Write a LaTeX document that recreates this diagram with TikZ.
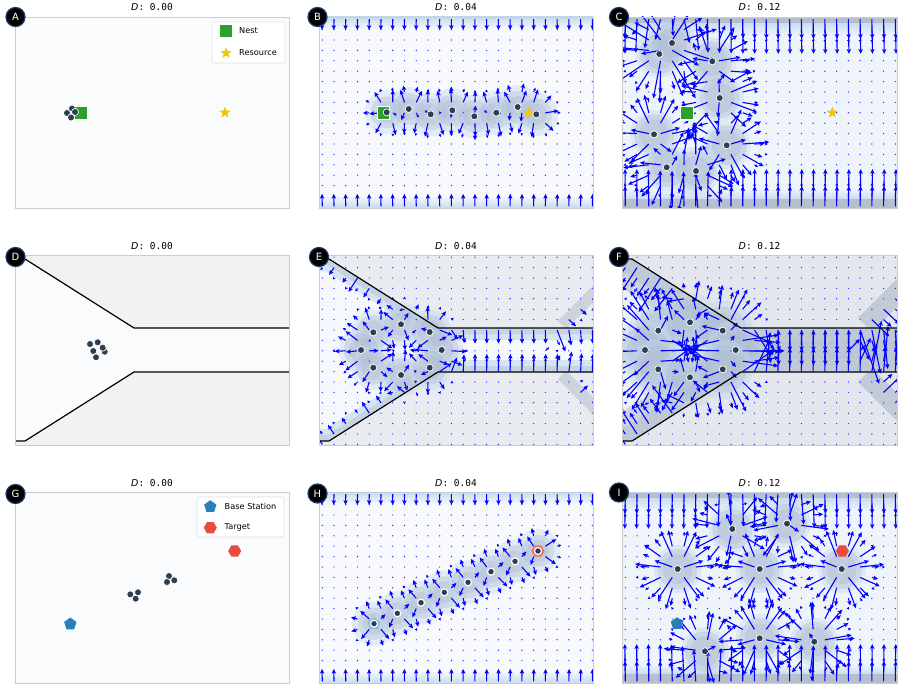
\documentclass[tikz,border=0pt]{standalone}
\usepackage{fontspec}
\setmainfont{DejaVu Sans}
\setsansfont{DejaVu Sans}
\setmonofont{DejaVu Sans Mono}
\usetikzlibrary{arrows.meta,shapes.geometric}
\definecolor{panelbg}{RGB}{250,251,253}
\definecolor{panelframe}{RGB}{200,205,213}
\definecolor{fieldbg}{RGB}{247,249,253}
\definecolor{densebg}{RGB}{238,244,250}
\definecolor{wallout}{RGB}{241,242,244}
\definecolor{walloutE}{RGB}{232,236,241}
\definecolor{walloutF}{RGB}{227,231,237}
\definecolor{wallinE}{RGB}{245,248,252}
\definecolor{wallinF}{RGB}{238,243,248}
\definecolor{haloblue}{RGB}{196,215,236}
\definecolor{halogray}{RGB}{172,184,205}
\definecolor{bandgray}{RGB}{181,191,206}
\definecolor{bandblue}{RGB}{200,218,238}
\definecolor{agentc}{RGB}{44,62,80}
\definecolor{nestc}{RGB}{44,160,44}
\definecolor{starc}{RGB}{241,196,15}
\definecolor{basec}{RGB}{41,128,185}
\definecolor{targetc}{RGB}{231,76,60}
\definecolor{labelring}{RGB}{28,58,105}
\definecolor{vecc}{RGB}{0,0,255}
\tikzset{
  agentdot/.style={circle, fill=agentc, draw=white, line width=0.7pt, inner sep=0pt, minimum size=7pt},
  nestmark/.style={rectangle, fill=nestc, draw=white, line width=0.5pt, inner sep=0pt, minimum size=12.5pt},
  resourcemark/.style={star, star points=5, star point ratio=2.4, fill=starc, inner sep=0pt, minimum size=12pt},
  basemark/.style={regular polygon, regular polygon sides=5, fill=basec, inner sep=0pt, minimum size=13pt},
  targetmark/.style={regular polygon, regular polygon sides=6, fill=targetc, inner sep=0pt, minimum size=13pt},
  panellabel/.style={circle, fill=black, draw=labelring, line width=1.2pt, inner sep=0pt, minimum size=19pt, text=white, font=\fontsize{10}{10}\selectfont},
  paneltitle/.style={font=\fontsize{9.5}{11}\selectfont, inner sep=0pt},
  axesbox/.style={draw=panelframe, line width=0.9pt},
  legendbox/.style={rectangle, draw=black!12, fill=white, rounded corners=1.5pt, line width=0.6pt, inner sep=0pt},
  legendtext/.style={font=\fontsize{8.2}{10}\selectfont, anchor=west, inner sep=0pt},
  wallline/.style={draw=black, line width=1.2pt},
  vec/.style={draw=vecc, line width=1.1pt, -{Stealth[length=4.6pt,width=4.2pt,inset=0.8pt]}},
  vecshort/.style={draw=vecc, line width=0.9pt, -{Stealth[length=2.6pt,width=2.8pt,inset=0.4pt]}},
  vecdot/.style={fill=vecc!85}
}
% agent positions, panel coordinates (origin top left, y down)
\def\agentsB{67.7/95.3,89.7/92,111.7/97.3,133.3/93.3,155.3/99.3,177.3/95.7,198.7/90,217.3/97.3}
\def\agentsC{37.3/37,50/26,90.3/44.3,97.7/81,32/117.3,104.7/128.3,44.7/150.3,74/154}
\def\agentsE{54.3/77.3,82/69.3,110.7/77,42/95,122.7/95,54.3/112.7,82/120,110.7/112.7}
\def\agentsF{36.3/75.7,68/67.3,100.7/75.7,23/95,113.7/95,36.3/114.3,68/122.3,100.7/114.3}
\def\agentsH{55/131.7,78.3/121.3,102/110.7,125.3/100.3,149/90.3,172/79.7,196/69.3,219/59}
\def\agentsI{110.3/37,165/31.7,55.7/77,137.7/77,219.7/77,83/159.3,137.7/146.3,192.3/149.7}
% soft halo round each agent
\newcommand{\halos}[4]{%
  \foreach \qa/\qb in #1 {%
    \fill[haloblue, opacity=0.4] (\qa,\qb) circle (#2);
    \fill[halogray, opacity=0.35] (\qa,\qb) circle (#3);
    \fill[halogray, opacity=0.35] (\qa,\qb) circle (#4);
  }}
% walls of the funnel, and the chevron at the right edge
\newcommand{\funnelwalls}[2]{%
  \ifdim\qpu pt<119pt
    \pgfmathsetmacro\qdt{(\qpu-10)*(-0.535)+(\qpv-4)*0.845}%
    \pgfmathsetmacro\qdb{(\qpu-10)*(-0.535)+(186-\qpv)*0.845}%
    \def\qntx{-0.535}\def\qnty{0.845}\def\qnbx{-0.535}\def\qnby{-0.845}%
  \else
    \pgfmathsetmacro\qdt{\qpv-73}\pgfmathsetmacro\qdb{117-\qpv}%
    \def\qntx{0}\def\qnty{1}\def\qnbx{0}\def\qnby{-1}%
  \fi
  \ifdim\qdt pt>0pt \ifdim\qdb pt>0pt
    \pgfmathsetmacro\qet{#1*exp(-min(\qdt/#2,9))}%
    \pgfmathsetmacro\qeb{#1*exp(-min(\qdb/#2,9))}%
    \pgfmathsetmacro\qtx{\qvx+\qntx*\qet+\qnbx*\qeb}\global\let\qvx\qtx
    \pgfmathsetmacro\qty{\qvy+\qnty*\qet+\qnby*\qeb}\global\let\qvy\qty
  \fi\fi
  \ifdim\qpu pt>225pt
    \pgfmathsetmacro\qdc{(\qpu-275+\qpv-38)*0.707}%
    \ifdim\qdc pt>0pt \ifdim\qpv pt<95pt
      \pgfmathsetmacro\qec{0.6*#1*exp(-min(\qdc/#2,9))}%
      \pgfmathsetmacro\qtx{\qvx+0.707*\qec}\global\let\qvx\qtx
      \pgfmathsetmacro\qty{\qvy+0.707*\qec}\global\let\qvy\qty
    \fi\fi
    \pgfmathsetmacro\qdc{(\qpu-275-\qpv+152)*0.707}%
    \ifdim\qdc pt>0pt \ifdim\qpv pt>95pt
      \pgfmathsetmacro\qec{0.6*#1*exp(-min(\qdc/#2,9))}%
      \pgfmathsetmacro\qtx{\qvx+0.707*\qec}\global\let\qvx\qtx
      \pgfmathsetmacro\qty{\qvy-0.707*\qec}\global\let\qvy\qty
    \fi\fi
  \fi}
% quiver grid: #1 agents, #2 sigma, #3 gain, #4 0=box 1=funnel, #5 wall gain, #6 wall length
\newcommand{\quiverfield}[6]{%
  \foreach \qi in {0,...,23}{%
    \foreach \qj in {0,...,18}{%
      \pgfmathsetmacro\qpu{3.3+11.74*\qi}%
      \pgfmathsetmacro\qpv{2.2+10.4*\qj}%
      \gdef\qvx{0}\gdef\qvy{0}%
      \foreach \qa/\qb in #1 {%
        \pgfmathsetmacro\qdu{(\qpu-\qa)/#2}%
        \pgfmathsetmacro\qdv{(\qpv-\qb)/#2}%
        \pgfmathsetmacro\qwt{#3*exp(-min(0.5*(\qdu*\qdu+\qdv*\qdv),9))}%
        \pgfmathsetmacro\qtx{\qvx+\qdu*\qwt}\global\let\qvx\qtx
        \pgfmathsetmacro\qty{\qvy+\qdv*\qwt}\global\let\qvy\qty
      }%
      \ifnum#4=0
        \pgfmathsetmacro\qty{\qvy+#5*exp(-min(\qpv/#6,9))-#5*exp(-min((191-\qpv)/#6,9))}\global\let\qvy\qty
      \else
        \funnelwalls{#5}{#6}%
      \fi
      \pgfmathsetmacro\qlen{veclen(\qvx,\qvy)}%
      \ifdim\qlen pt<1.2pt
        \fill[vecdot] (\qpu,\qpv) circle (0.7);
      \else\ifdim\qlen pt<5.5pt
        \draw[vecshort] (\qpu,\qpv) -- ++(\qvx,\qvy);
      \else
        \draw[vec] (\qpu,\qpv) -- ++(\qvx,\qvy);
      \fi\fi
    }%
  }}
\begin{document}
\begin{tikzpicture}[x=1pt,y=-1pt]
\useasboundingbox (0,0) rectangle (900,685);
\fill[white] (0,0) rectangle (900,685);

% ---------- A: foraging, start
\begin{scope}[shift={(15,17)}]
  \fill[panelbg] (0,0) rectangle (274,191);
  \node[nestmark] (nestA) at (65.5,95.5) {};
  \node[resourcemark] (resA) at (210,95.5) {};
  \foreach \qa/\qb [count=\k] in {52/96,57/91.5,60/95,56/100.5} \node[agentdot] (a\k) at (\qa,\qb) {};
  \draw[axesbox] (0,0) rectangle (274,191);
  \node[legendbox, minimum width=73pt, minimum height=41pt] (legA) at (233.5,25.5) {};
  \node[nestmark, draw=none] (legnest) at (211,14) {};
  \node[legendtext] (legnesttxt) at (224,14) {Nest};
  \node[resourcemark] (legres) at (211,36) {};
  \node[legendtext] (legrestxt) at (224,36) {Resource};
\end{scope}

% ---------- B: foraging, D = 0.04
\begin{scope}[shift={(319,17)}]
  \begin{scope}
    \clip (0,0) rectangle (274,191);
    \fill[fieldbg] (0,0) rectangle (274,191);
    \shade[top color=bandblue, bottom color=fieldbg] (0,0) rectangle (274,12);
    \shade[top color=fieldbg, bottom color=bandblue] (0,179) rectangle (274,191);
    \halos{\agentsB}{22}{16}{11}
    \quiverfield{\agentsB}{9}{21}{0}{19}{4}
  \end{scope}
  \node[nestmark] (nestB) at (64,95.7) {};
  \node[resourcemark] (resB) at (209.7,95.7) {};
  \foreach \qa/\qb [count=\k] in \agentsB \node[agentdot] (b\k) at (\qa,\qb) {};
  \draw[axesbox] (0,0) rectangle (274,191);
\end{scope}

% ---------- C: foraging, D = 0.12
\begin{scope}[shift={(622,17)}]
  \begin{scope}
    \clip (0,0) rectangle (275,191);
    \fill[densebg] (0,0) rectangle (275,191);
    \shade[top color=bandblue, bottom color=densebg] (0,5) rectangle (275,18);
    \fill[bandgray] (0,0) rectangle (275,6);
    \shade[top color=densebg, bottom color=bandblue] (0,172) rectangle (275,183);
    \fill[bandgray] (0,182) rectangle (275,191);
    \halos{\agentsC}{24}{20}{15}
    \quiverfield{\agentsC}{13}{46}{0}{46}{8}
  \end{scope}
  \node[nestmark] (nestC) at (64.7,95.7) {};
  \node[resourcemark] (resC) at (210.3,95.7) {};
  \foreach \qa/\qb [count=\k] in \agentsC \node[agentdot] (c\k) at (\qa,\qb) {};
  \draw[axesbox] (0,0) rectangle (275,191);
\end{scope}

% ---------- D: funnel, start
\begin{scope}[shift={(15,255)}]
  \fill[wallout] (0,0) rectangle (274,190);
  \fill[panelbg] (0,4) -- (10,4) -- (119,73) -- (274,73) -- (274,117) -- (119,117) -- (10,186) -- (0,186) -- cycle;
  \draw[wallline] (0,4) -- (10,4) -- (119,73) -- (274,73);
  \draw[wallline] (0,186) -- (10,186) -- (119,117) -- (274,117);
  \foreach \qa/\qb [count=\k] in {75/89,82.7/87.3,78.3/96,89.7/96.7,81/102.3,87.7/92.7} \node[agentdot] (d\k) at (\qa,\qb) {};
  \draw[axesbox] (0,0) rectangle (274,190);
\end{scope}

% ---------- E: funnel, D = 0.04
\begin{scope}[shift={(319,255)}]
  \begin{scope}
    \clip (0,0) rectangle (274,190);
    \fill[walloutE] (0,0) rectangle (274,190);
    \draw[bandgray, line width=12pt, opacity=0.55] (300,13) -- (243,70);
    \draw[bandgray, line width=12pt, opacity=0.55] (243,120) -- (300,177);
    \begin{scope}
      \clip (0,4) -- (10,4) -- (119,73) -- (274,73) -- (274,117) -- (119,117) -- (10,186) -- (0,186) -- cycle;
      \fill[wallinE] (0,0) rectangle (274,190);
      \draw[haloblue, line width=24pt, opacity=0.6] (0,4) -- (10,4) -- (119,73) -- (274,73);
      \draw[haloblue, line width=24pt, opacity=0.6] (0,186) -- (10,186) -- (119,117) -- (274,117);
      \draw[bandgray, line width=12pt, opacity=0.45] (0,4) -- (10,4) -- (119,73) -- (274,73);
      \draw[bandgray, line width=12pt, opacity=0.45] (0,186) -- (10,186) -- (119,117) -- (274,117);
    \end{scope}
    \halos{\agentsE}{22}{17}{12}
    \quiverfield{\agentsE}{10}{22}{1}{19}{6}
  \end{scope}
  \draw[wallline] (0,4) -- (10,4) -- (119,73) -- (274,73);
  \draw[wallline] (0,186) -- (10,186) -- (119,117) -- (274,117);
  \foreach \qa/\qb [count=\k] in \agentsE \node[agentdot] (e\k) at (\qa,\qb) {};
  \draw[axesbox] (0,0) rectangle (274,190);
\end{scope}

% ---------- F: funnel, D = 0.12
\begin{scope}[shift={(622,255)}]
  \begin{scope}
    \clip (0,0) rectangle (275,190);
    \fill[walloutF] (0,0) rectangle (275,190);
    \draw[bandgray, line width=20pt, opacity=0.7] (300,13) -- (243,70);
    \draw[bandgray, line width=20pt, opacity=0.7] (243,120) -- (300,177);
    \begin{scope}
      \clip (0,4) -- (10,4) -- (119,73) -- (275,73) -- (275,117) -- (119,117) -- (10,186) -- (0,186) -- cycle;
      \fill[wallinF] (0,0) rectangle (275,190);
      \draw[bandgray, line width=60pt, opacity=0.6] (0,4) -- (10,4) -- (119,73) -- (275,73);
      \draw[bandgray, line width=60pt, opacity=0.6] (0,186) -- (10,186) -- (119,117) -- (275,117);
      \draw[bandgray, line width=30pt, opacity=0.5] (0,4) -- (10,4) -- (119,73) -- (275,73);
      \draw[bandgray, line width=30pt, opacity=0.5] (0,186) -- (10,186) -- (119,117) -- (275,117);
    \end{scope}
    \halos{\agentsF}{30}{24}{18}
    \quiverfield{\agentsF}{14}{44}{1}{44}{10}
  \end{scope}
  \draw[wallline] (0,4) -- (10,4) -- (119,73) -- (275,73);
  \draw[wallline] (0,186) -- (10,186) -- (119,117) -- (275,117);
  \foreach \qa/\qb [count=\k] in \agentsF \node[agentdot] (f\k) at (\qa,\qb) {};
  \draw[axesbox] (0,0) rectangle (275,190);
\end{scope}

% ---------- G: relay, start
\begin{scope}[shift={(15,492)}]
  \fill[panelbg] (0,0) rectangle (274,191);
  \node[targetmark] (targetG) at (219.7,59) {};
  \node[basemark] (baseG) at (55.3,132) {};
  \foreach \qa/\qb [count=\k] in {115.3/102.3,123/100.3,120.7/106.7,154/84,159.3/88.3,152/90} \node[agentdot] (g\k) at (\qa,\qb) {};
  \draw[axesbox] (0,0) rectangle (274,191);
  \node[legendbox, minimum width=87pt, minimum height=40pt] (legG) at (225.5,25) {};
  \node[basemark] (legbase) at (195.3,14.7) {};
  \node[legendtext] (legbasetxt) at (209.5,14.7) {Base Station};
  \node[targetmark] (legtarget) at (195.3,35.7) {};
  \node[legendtext] (legtargettxt) at (209.5,35.7) {Target};
\end{scope}

% ---------- H: relay, D = 0.04
\begin{scope}[shift={(319,492)}]
  \begin{scope}
    \clip (0,0) rectangle (274,191);
    \fill[fieldbg] (0,0) rectangle (274,191);
    \shade[top color=bandblue, bottom color=fieldbg] (0,0) rectangle (274,12);
    \shade[top color=fieldbg, bottom color=bandblue] (0,179) rectangle (274,191);
    \halos{\agentsH}{22}{16}{11}
    \quiverfield{\agentsH}{9}{21}{0}{19}{4}
  \end{scope}
  \node[basemark, fill=basec!55] (baseH) at (55,131.7) {};
  \node[targetmark, fill=targetc!80] (targetH) at (219,59) {};
  \foreach \qa/\qb [count=\k] in \agentsH \node[agentdot, line width=1.2pt] (h\k) at (\qa,\qb) {};
  \draw[axesbox] (0,0) rectangle (274,191);
\end{scope}

% ---------- I: relay, D = 0.12
\begin{scope}[shift={(622,492)}]
  \begin{scope}
    \clip (0,0) rectangle (275,191);
    \fill[densebg] (0,0) rectangle (275,191);
    \shade[top color=bandblue, bottom color=densebg] (0,5) rectangle (275,18);
    \fill[bandgray] (0,0) rectangle (275,6);
    \shade[top color=densebg, bottom color=bandblue] (0,172) rectangle (275,183);
    \fill[bandgray] (0,182) rectangle (275,191);
    \halos{\agentsI}{24}{20}{15}
    \quiverfield{\agentsI}{13}{46}{0}{46}{8}
  \end{scope}
  \node[targetmark] (targetI) at (220.3,59) {};
  \node[basemark] (baseI) at (55,131.7) {};
  \foreach \qa/\qb [count=\k] in \agentsI \node[agentdot] (i\k) at (\qa,\qb) {};
  \draw[axesbox] (0,0) rectangle (275,191);
\end{scope}

% ---------- titles and panel letters
\node[paneltitle] (titA) at (152,7.5) {\textit{D}\texttt{: 0.00}};
\node[paneltitle] (titB) at (456,7.5) {\textit{D}\texttt{: 0.04}};
\node[paneltitle] (titC) at (759.5,7.5) {\textit{D}\texttt{: 0.12}};
\node[paneltitle] (titD) at (152,246) {\textit{D}\texttt{: 0.00}};
\node[paneltitle] (titE) at (456,246) {\textit{D}\texttt{: 0.04}};
\node[paneltitle] (titF) at (759.5,246) {\textit{D}\texttt{: 0.12}};
\node[paneltitle] (titG) at (152,483.5) {\textit{D}\texttt{: 0.00}};
\node[paneltitle] (titH) at (456,483.5) {\textit{D}\texttt{: 0.04}};
\node[paneltitle] (titI) at (759.5,483.5) {\textit{D}\texttt{: 0.12}};
\node[panellabel] (labA) at (15.5,17) {A};
\node[panellabel] (labB) at (317.5,17) {B};
\node[panellabel] (labC) at (619,17) {C};
\node[panellabel] (labD) at (15.5,257) {D};
\node[panellabel] (labE) at (319,257) {E};
\node[panellabel] (labF) at (619,257) {F};
\node[panellabel] (labG) at (15.5,494) {G};
\node[panellabel] (labH) at (317.5,493.5) {H};
\node[panellabel] (labI) at (619,492.5) {I};
\end{tikzpicture}
\end{document}
